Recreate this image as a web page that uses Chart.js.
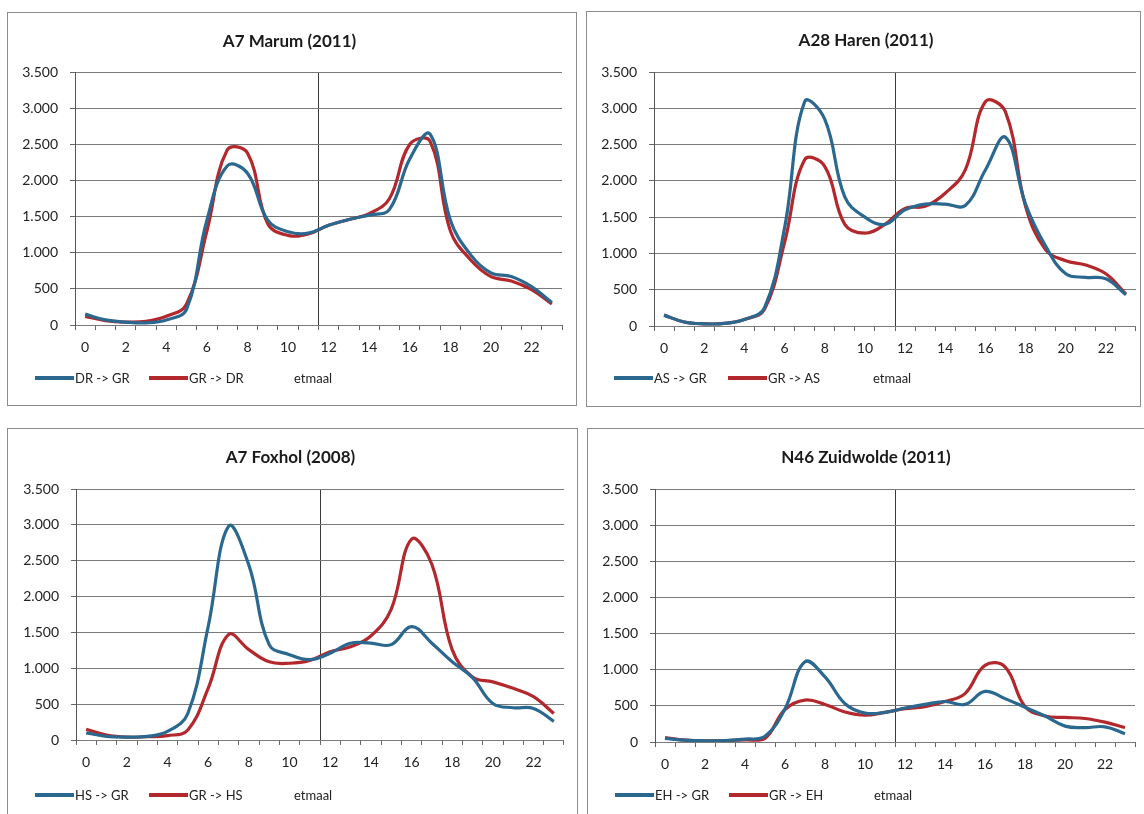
<!DOCTYPE html>
<html>
<head>
<meta charset="utf-8">
<script src="https://cdn.jsdelivr.net/npm/chart.js@4.4.1/dist/chart.umd.min.js"></script>
<style>
html,body{margin:0;padding:0;background:#fff;width:1144px;height:814px;overflow:hidden;}
.panel{position:absolute;border:1px solid #8c8c8c;background:#fff;box-sizing:border-box;overflow:hidden;}
.panel canvas{position:absolute;left:0;top:0;}
.lg{position:absolute;height:16px;font:13px Lato, "DejaVu Sans", sans-serif;color:#222;white-space:nowrap;}
.lg .it{position:absolute;top:0;display:flex;align-items:center;height:16px;}
.lg .ln{display:inline-block;width:39px;height:4px;margin-right:1px;}
</style>
</head>
<body>
<div class="panel" id="p1" style="left:7px;top:12px;width:570px;height:394px"><canvas id="c1" width="568" height="392"></canvas></div>
<div class="panel" id="p2" style="left:586px;top:11px;width:555px;height:396px"><canvas id="c2" width="553" height="394"></canvas></div>
<div class="panel" id="p3" style="left:7px;top:428px;width:571px;height:392px"><canvas id="c3" width="569" height="385"></canvas></div>
<div class="panel" id="p4" style="left:587px;top:428px;width:562px;height:392px"><canvas id="c4" width="556" height="385"></canvas></div>
<script>
// hour-of-day categories
const hours = ['0','1','2','3','4','5','6','7','8','9','10','11','12','13','14','15','16','17','18','19','20','21','22','23'];

// A7 Marum (2011)
const marumDRtoGR = [150, 70, 40, 30, 70, 220, 1450, 2200, 2100, 1450, 1290, 1270, 1380, 1460, 1520, 1600, 2300, 2640, 1450, 970, 720, 670, 530, 310];
const marumGRtoDR = [120, 60, 40, 50, 120, 290, 1300, 2420, 2380, 1400, 1240, 1260, 1380, 1460, 1540, 1750, 2500, 2540, 1300, 900, 670, 610, 490, 290];

// A28 Haren (2011)
const harenAStoGR = [150, 55, 30, 35, 90, 250, 1350, 3090, 2850, 1780, 1500, 1400, 1600, 1680, 1680, 1660, 2150, 2600, 1680, 1100, 720, 670, 650, 430];
const harenGRtoAS = [150, 55, 30, 35, 90, 230, 1150, 2290, 2200, 1400, 1280, 1400, 1620, 1650, 1830, 2150, 3090, 2950, 1650, 1050, 900, 840, 720, 440];

// A7 Foxhol (2008)
const foxholHStoGR = [100, 50, 40, 50, 120, 370, 1580, 2980, 2440, 1330, 1190, 1120, 1210, 1350, 1350, 1330, 1580, 1350, 1090, 870, 510, 450, 440, 260];
const foxholGRtoHS = [150, 70, 40, 45, 60, 140, 720, 1470, 1260, 1090, 1070, 1110, 1230, 1300, 1450, 1820, 2800, 2450, 1260, 880, 810, 720, 605, 370];

// N46 Zuidwolde (2011)
const zuidEHtoGR = [50, 25, 15, 20, 40, 80, 460, 1110, 900, 530, 400, 410, 470, 520, 560, 520, 700, 600, 480, 360, 220, 200, 210, 115];
const zuidGRtoEH = [60, 25, 15, 20, 30, 50, 450, 580, 520, 415, 370, 410, 460, 490, 560, 670, 1060, 1040, 490, 360, 340, 325, 275, 200];

const yTicks = [0, 500, 1000, 1500, 2000, 2500, 3000, 3500];
const BLUE = '#2b6890';
const RED = '#b3282c';
const FONT = 'Lato, "DejaVu Sans", sans-serif';

function fmt(v){ return String(v).replace(/\B(?=(\d{3})+(?!\d))/g, '.'); }

function makeLegend(panelId, chart, top){
  const p = document.getElementById(panelId);
  const lg = document.createElement('div');
  lg.className = 'lg';
  lg.style.left = '0px';
  lg.style.top = top + 'px';
  const lefts = [27, 141, 246];
  chart.data.datasets.forEach((ds, i) => {
    const it = document.createElement('div');
    it.className = 'it';
    it.style.left = lefts[i] + 'px';
    const ln = document.createElement('span');
    ln.className = 'ln';
    ln.style.background = ds.borderColor;
    const tx = document.createElement('span');
    tx.textContent = ds.label;
    it.appendChild(ln); it.appendChild(tx);
    lg.appendChild(it);
  });
  p.appendChild(lg);
}

function makeChart(id, panelId, title, nameA, dataA, nameB, dataB, g){
  const chart = new Chart(document.getElementById(id), {
    type: 'line',
    data: {
      labels: hours,
      datasets: [
        {label: nameA, data: dataA, borderColor: BLUE, backgroundColor: BLUE, borderWidth: 3.2, pointRadius: 0, tension: 0.4, fill: false},
        {label: nameB, data: dataB, borderColor: RED, backgroundColor: RED, borderWidth: 3.2, pointRadius: 0, tension: 0.4, fill: false},
        {label: 'etmaal', data: [], borderColor: 'rgba(0,0,0,0)', backgroundColor: 'rgba(0,0,0,0)', borderWidth: 0, pointRadius: 0}
      ]
    },
    options: {
      responsive: false,
      animation: false,
      layout: {padding: {left: 9, right: g.right, top: 0, bottom: g.bottom}},
      plugins: {
        title: {display: true, text: title, color: '#1a1a1a', font: {family: FONT, size: 17, weight: 'bold'}, padding: {top: g.tTop, bottom: g.tBottom}},
        legend: {display: false},
        tooltip: {enabled: false}
      },
      scales: {
        x: {
          offset: true,
          grid: {
            offset: true, drawOnChartArea: true, tickLength: 5, tickColor: '#666',
            color: (ctx) => (ctx.index === 12 ? '#3a3a3a' : (ctx.index === 24 ? '#777' : 'rgba(0,0,0,0)')),
            lineWidth: 1
          },
          border: {display: false},
          ticks: {
            autoSkip: false, maxRotation: 0, padding: 9, color: '#222',
            font: {family: FONT, size: 14},
            callback: function(v, i){ return i % 2 === 0 ? this.getLabelForValue(v) : ''; }
          }
        },
        y: {
          min: 0, max: 3500,
          afterFit(scale){ scale.width = g.yw; },
          afterBuildTicks(scale){ scale.ticks = yTicks.map(v => ({value: v})); },
          grid: {color: '#7a7a7a', lineWidth: 1, tickLength: 5, tickColor: '#666'},
          border: {display: true, color: '#555', width: 1},
          ticks: {padding: 12, color: '#222', font: {family: FONT, size: 14}, callback: (v) => fmt(v)}
        }
      }
    }
  });
  makeLegend(panelId, chart, g.legendTop);
}

makeChart('c1', 'p1', 'A7 Marum (2011)', 'DR -> GR', marumDRtoGR, 'GR -> DR', marumGRtoDR, {right: 14, bottom: 40.2, tTop: 18, tBottom: 20.6, yw: 58, legendTop: 357});
makeChart('c2', 'p2', 'A28 Haren (2011)', 'AS -> GR', harenAStoGR, 'GR -> AS', harenGRtoAS, {right: 4, bottom: 40.2, tTop: 18.8, tBottom: 20.8, yw: 58, legendTop: 358});
makeChart('c3', 'p3', 'A7 Foxhol (2008)', 'HS -> GR', foxholHStoGR, 'GR -> HS', foxholGRtoHS, {right: 13, bottom: 34.2, tTop: 18.8, tBottom: 20.8, yw: 59, legendTop: 358});
makeChart('c4', 'p4', 'N46 Zuidwolde (2011)', 'EH -> GR', zuidEHtoGR, 'GR -> EH', zuidGRtoEH, {right: 9, bottom: 32.2, tTop: 18.8, tBottom: 20.8, yw: 58, legendTop: 358});
</script>
</body>
</html>
